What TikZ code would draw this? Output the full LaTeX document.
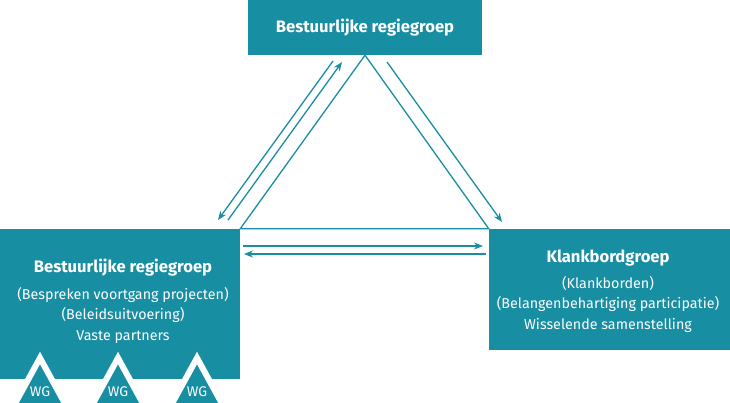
\documentclass[tikz,border=0pt]{standalone}
\usepackage{fontspec}
\setmainfont{Fira Sans}
\usetikzlibrary{arrows.meta, positioning}
\definecolor{petrol}{RGB}{24, 142, 163}

\begin{document}
\begin{tikzpicture}[
  x=1pt, y=-1pt,
  >={Stealth[length=9pt, width=7pt]},
  box/.style={
    rectangle, fill=petrol, text=white,
    inner sep=0pt, align=center, font=\fontsize{14.3}{20.5}\selectfont
  },
  head/.style={font=\bfseries\fontsize{16.6}{20}\selectfont},
  link/.style={draw=petrol, line width=1.3pt},
  wgtri/.style={fill=petrol, draw=white, line width=6pt},
  wglbl/.style={text=white, font=\fontsize{14}{16}\selectfont}
]
  \useasboundingbox (0,0) rectangle (730,402);

  \node[box, minimum width=234pt, minimum height=55pt] (regie) at (365,27.5) {};
  \node[head, text=white] at (regie.center) {Bestuurlijke regiegroep};

  \node[box, minimum width=240pt, minimum height=150pt] (uitv) at (120,304) {};
  \node[box, anchor=north] (uitvtxt) at (123,259)
    {{\bfseries\fontsize{16.6}{20}\selectfont Bestuurlijke regiegroep}\\[6pt]
     (Bespreken voortgang projecten)\\(Beleidsuitvoering)\\Vaste partners};

  \node[box, minimum width=241pt, minimum height=121pt] (klank) at (609.5,289.5) {};
  \node[box, anchor=north] (klanktxt) at (608,250)
    {{\bfseries\fontsize{16.6}{20}\selectfont Klankbordgroep}\\[5pt]
     (Klankborden)\\(Belangenbehartiging participatie)\\Wisselende samenstelling};

  \foreach \x/\n in {40/wga, 118/wgb, 197/wgc} {
    \draw[wgtri] (\x,358) -- (\x+34,420) -- (\x-34,420) -- cycle;
    \node[wglbl] (\n) at (\x,392) {WG};
  }

  \draw[link] (uitv.north east) -- (regie.south) -- (klank.north west) -- cycle;

  \coordinate (a1) at (333,61);  \coordinate (b1) at (218,220);
  \coordinate (a2) at (228,220); \coordinate (b2) at (342,62);
  \coordinate (a3) at (387,62);  \coordinate (b3) at (502,222);
  \coordinate (a4) at (243,246); \coordinate (b4) at (483,246);
  \coordinate (a5) at (486,254); \coordinate (b5) at (244,254);

  \draw[link, ->] (a1) -- (b1);
  \draw[link, ->] (a2) -- (b2);
  \draw[link, ->] (a3) -- (b3);
  \draw[link, ->] (a4) -- (b4);
  \draw[link, ->] (a5) -- (b5);
\end{tikzpicture}
\end{document}
